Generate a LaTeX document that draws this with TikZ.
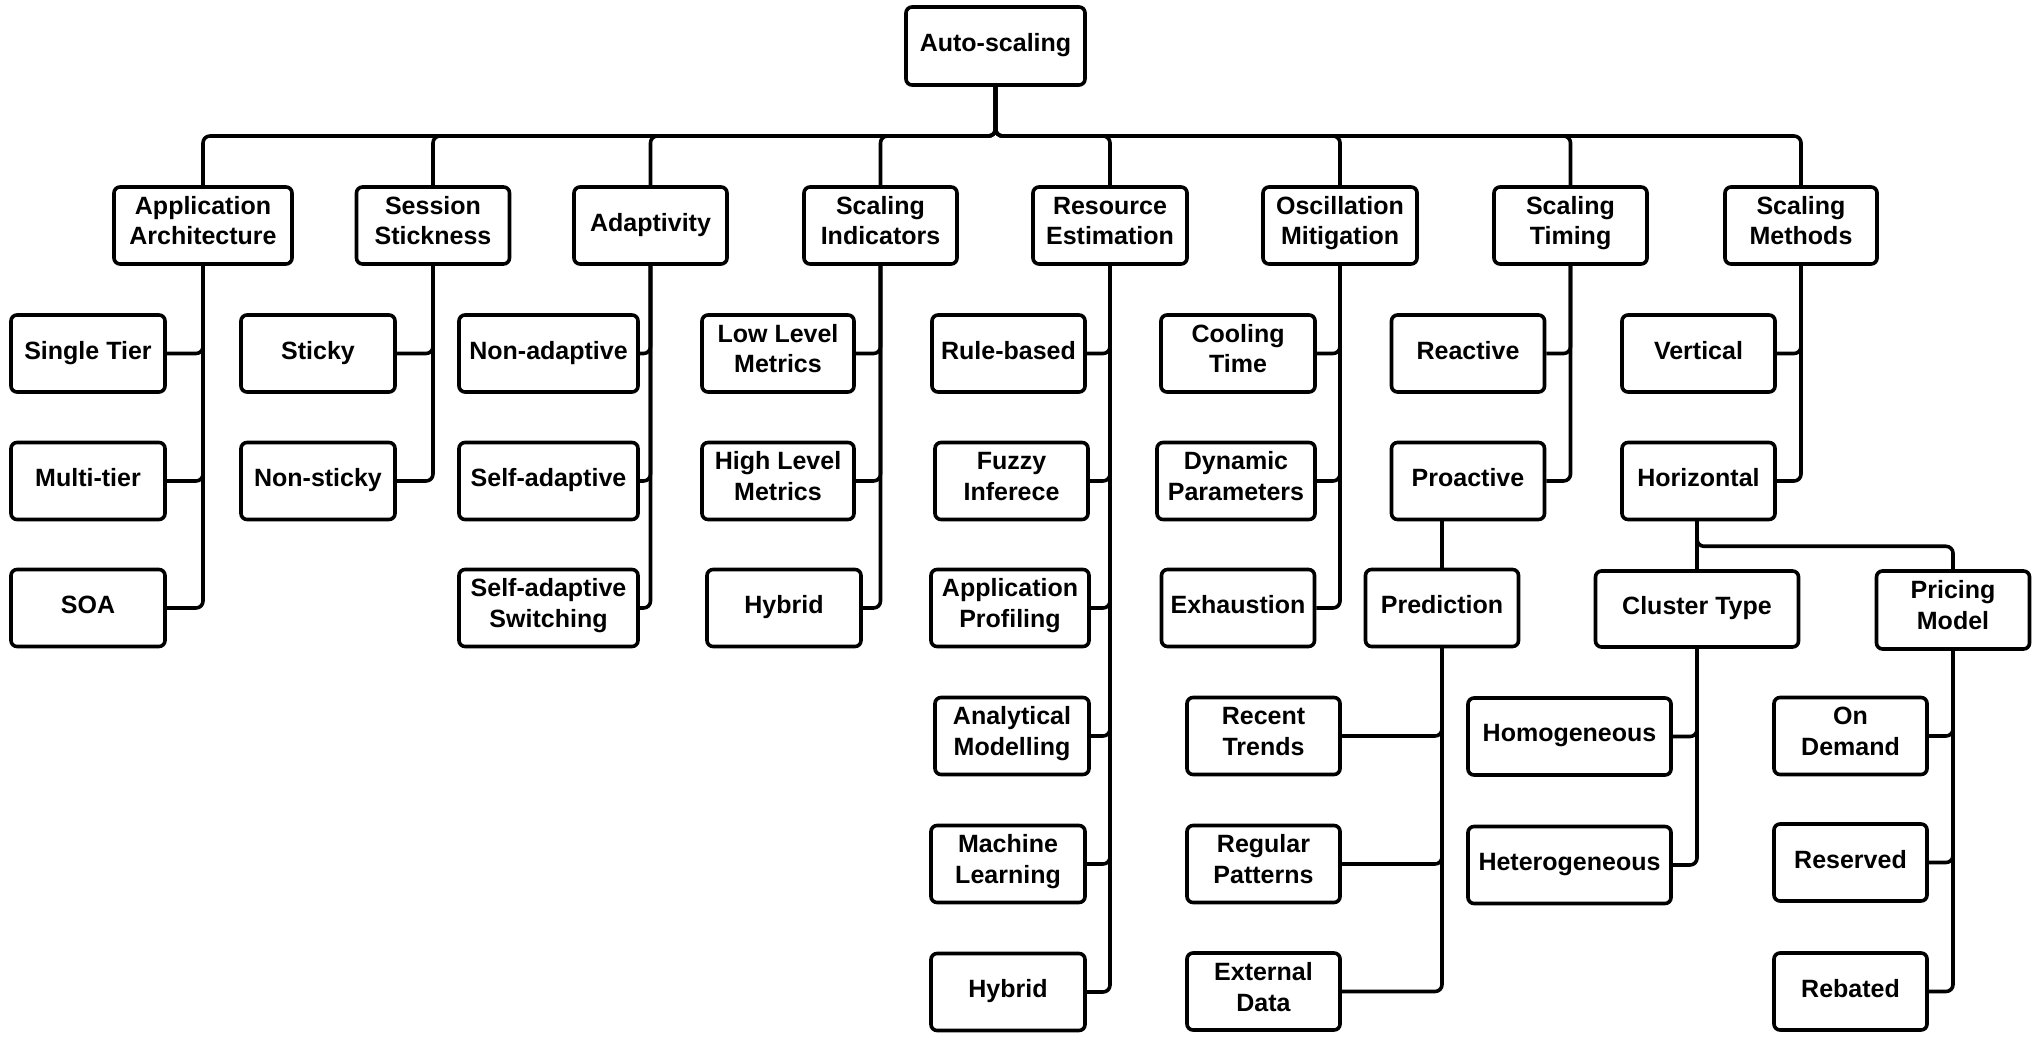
\documentclass[tikz,border=0pt]{standalone}
\usepackage{fontspec}
\setmainfont{Liberation Sans}
\begin{document}
\begin{tikzpicture}[x=0.5pt,y=-0.5pt,
  box/.style={draw=black, line width=1.8pt, rounded corners=3pt, fill=white, align=center,
    inner sep=0pt, font=\bfseries\fontsize{12.5}{15.3}\selectfont},
  conn/.style={draw=black, line width=1.8pt, rounded corners=3.5pt}]
\newcommand\sta{\rule[-3.4pt]{0pt}{9.4pt}}
\newcommand\stb{\rule[-5.2pt]{0pt}{5pt}}
\newcommand\bx[6]{\node[box, minimum width=#4*0.5pt, minimum height=#5*0.5pt] (#1) at (#2,#3) {\sta#6};}
\newcommand\bxx[7]{\node[box, minimum width=#4*0.5pt, minimum height=#5*0.5pt] (#1) at (#2,#3) {\rule{0pt}{9.4pt}#6\\#7\stb};}
\useasboundingbox[fill=white] (0,0) rectangle (2039,1042);
\coordinate (bus) at (0,136);
% root
\bx{root}{995.5}{46}{179}{78}{Auto-scaling}
% level 1
\bxx{arch}{203}{225.5}{178}{77}{Application}{Architecture}
\bxx{sess}{433}{225.5}{153}{77}{Session}{Stickness}
\bx{adapt}{650.5}{225.5}{153}{77}{Adaptivity}
\bxx{indic}{880.5}{225.5}{153}{77}{Scaling}{Indicators}
\bxx{resest}{1110}{225.5}{154}{77}{Resource}{Estimation}
\bxx{osc}{1340}{225.5}{154}{77}{Oscillation}{Mitigation}
\bxx{timing}{1570.5}{225.5}{153}{77}{Scaling}{Timing}
\bxx{methods}{1801}{225.5}{152}{77}{Scaling}{Methods}
% application architecture
\bx{single}{88}{353.5}{154}{77}{Single Tier}
\bx{multi}{88}{481}{154}{77}{Multi-tier}
\bx{soa}{88}{608}{154}{77}{SOA}
% session
\bx{sticky}{318}{353.5}{154}{77}{Sticky}
\bx{nonsticky}{318}{481}{154}{77}{Non-sticky}
% adaptivity
\bx{nonad}{548.5}{353.5}{179}{77}{Non-adaptive}
\bx{selfad}{548.5}{481}{179}{77}{Self-adaptive}
\bxx{switch}{548.5}{608}{179}{77}{Self-adaptive}{Switching}
% indicators
\bxx{low}{778}{353.5}{152}{77}{Low Level}{Metrics}
\bxx{high}{778}{481}{152}{77}{High Level}{Metrics}
\bx{hybsi}{784}{608}{154}{77}{Hybrid}
% resource estimation
\bx{rule}{1008.5}{353.5}{153}{77}{Rule-based}
\bxx{fuzzy}{1011.5}{481}{153}{77}{Fuzzy}{Inferece}
\bxx{profil}{1010}{608}{158}{77}{Application}{Profiling}
\bxx{analyt}{1012}{736}{154}{77}{Analytical}{Modelling}
\bxx{ml}{1008}{864}{154}{77}{Machine}{Learning}
\bx{hybre}{1008}{992}{154}{77}{Hybrid}
% oscillation
\bxx{cool}{1238}{353.5}{154}{77}{Cooling}{Time}
\bxx{dyn}{1236}{481}{158}{77}{Dynamic}{Parameters}
\bx{exh}{1238}{608}{153}{77}{Exhaustion}
% timing
\bx{react}{1468}{353.5}{153}{77}{Reactive}
\bx{proact}{1468}{481}{153}{77}{Proactive}
\bx{pred}{1442}{608}{153}{77}{Prediction}
\bxx{recent}{1263.5}{736}{153}{77}{Recent}{Trends}
\bxx{regular}{1263.5}{864}{153}{77}{Regular}{Patterns}
\bxx{extern}{1263.5}{991.5}{153}{77}{External}{Data}
% methods
\bx{vert}{1698.5}{353.5}{153}{77}{Vertical}
\bx{horiz}{1698.5}{481}{153}{77}{Horizontal}
\bx{cluster}{1697}{609}{203}{76}{Cluster Type}
\bxx{pricing}{1953}{610}{153}{78}{Pricing}{Model}
\bx{homog}{1569.5}{736.5}{203}{77}{Homogeneous}
\bx{heterog}{1569.5}{865}{203}{77}{Heterogeneous}
\bxx{ondem}{1850.5}{736}{153}{77}{On}{Demand}
\bx{reserved}{1850.5}{862.5}{153}{77}{Reserved}
\bx{rebated}{1850.5}{991.5}{153}{77}{Rebated}
% root to level 1
\foreach \n in {arch,sess,adapt,indic,resest,osc,timing,methods}
  \draw[conn] (root.south) -- (root.south |- bus) -| (\n.north);
% level 1 to level 2
\foreach \p/\c in {arch/single,arch/multi,arch/soa,sess/sticky,sess/nonsticky,
  adapt/nonad,adapt/selfad,adapt/switch,indic/low,indic/high,indic/hybsi,
  resest/rule,resest/fuzzy,resest/profil,resest/analyt,resest/ml,resest/hybre,
  osc/cool,osc/dyn,osc/exh,timing/react,timing/proact,methods/vert,methods/horiz,
  pred/recent,pred/regular,pred/extern,cluster/homog,cluster/heterog,
  pricing/ondem,pricing/reserved,pricing/rebated}
  \draw[conn] (\p.south) |- (\c.east);
\draw[conn] (proact.south -| pred.north) -- (pred.north);
\draw[conn] (horiz.south -| cluster.north) -- (cluster.north);
\draw[conn] (horiz.south -| cluster.north) -- ++(0,25) -| (pricing.north);
\end{tikzpicture}
\end{document}
